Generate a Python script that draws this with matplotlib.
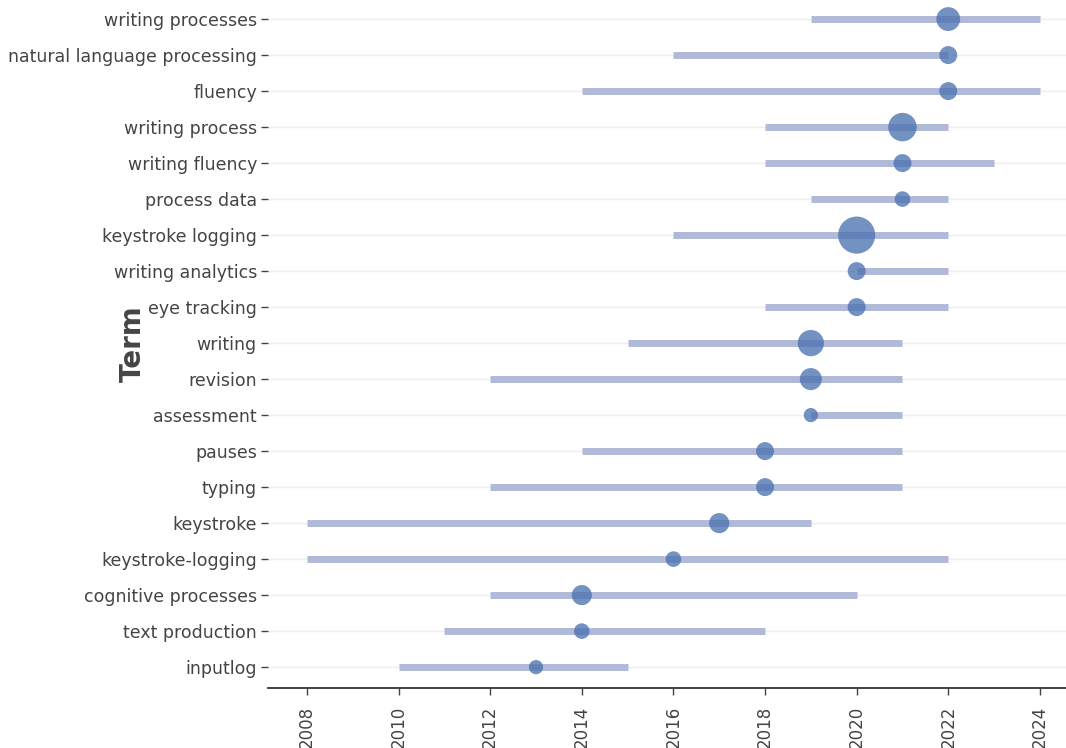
import matplotlib
matplotlib.use("Agg")
import matplotlib.pyplot as plt
import numpy as np

# Term data: first year, median year, last year, frequency
terms = ["writing processes", "natural language processing", "fluency", "writing process",
         "writing fluency", "process data", "keystroke logging", "writing analytics",
         "eye tracking", "writing", "revision", "assessment", "pauses", "typing",
         "keystroke", "keystroke-logging", "cognitive processes", "text production", "inputlog"]
year_start = [2019, 2016, 2014, 2018, 2018, 2019, 2016, 2020, 2018, 2015, 2012, 2019, 2014, 2012,
              2008, 2008, 2012, 2011, 2010]
year_median = [2022, 2022, 2022, 2021, 2021, 2021, 2020, 2020, 2020, 2019, 2019, 2019, 2018, 2018,
               2017, 2016, 2014, 2014, 2013]
year_end = [2024, 2022, 2024, 2022, 2023, 2022, 2022, 2022, 2022, 2021, 2021, 2021, 2021, 2021,
            2019, 2022, 2020, 2018, 2015]
freq = [14, 8, 8, 20, 8, 6, 34, 8, 8, 17, 12, 5, 8, 8, 10, 6, 10, 6, 5]

xticks = list(range(2008, 2025, 2))

fig = plt.figure(figsize=(10.66, 7.48), dpi=100)
ax = fig.add_axes([268 / 1066, 1 - 688 / 748, 1 - 268 / 1066, 688 / 748])

y = np.arange(len(terms))[::-1]

for yi in y:
    ax.axhline(yi, color="#eeeeee", lw=1, zorder=0)

ax.hlines(y, year_start, year_end, color="#b0bad8", lw=5, zorder=1)
ax.scatter(year_median, y, s=np.array(freq) * 21, color="#4c72b0", alpha=0.78,
           edgecolor="none", zorder=2)

ax.set_xlim(2007.15, 2024.57)
ax.set_ylim(-0.58, 18.53)
ax.set_yticks(y)
ax.set_yticklabels(terms)
ax.set_xticks(xticks)
ax.set_xticklabels([str(t) for t in xticks], rotation=90)

for s in ["top", "right", "left"]:
    ax.spines[s].set_visible(False)
ax.spines["bottom"].set_color("#333333")
ax.spines["bottom"].set_linewidth(1.3)

ax.tick_params(axis="y", length=5, width=1, color="#444444", labelsize=12.5,
               labelcolor="#444444", pad=3)
ax.tick_params(axis="x", length=5, width=1, color="#444444", labelsize=12,
               labelcolor="#444444", pad=8)

ax.set_ylabel("Term", fontsize=20, fontweight="bold", color="#444444")
ax.yaxis.set_label_coords(-0.152, 0.5)

fig.savefig("out.png", dpi=100)
